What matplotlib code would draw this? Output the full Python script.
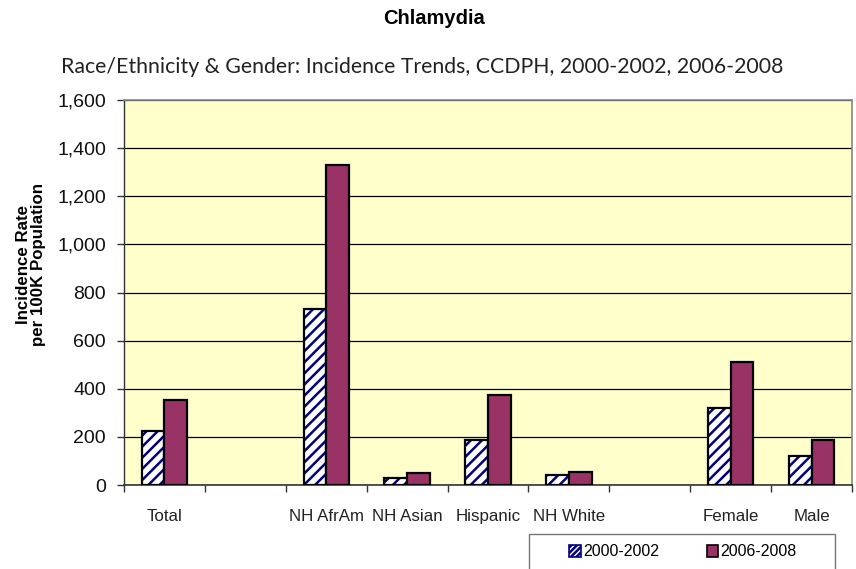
import matplotlib
matplotlib.use("Agg")
import matplotlib.pyplot as plt
from matplotlib.patches import Patch, Rectangle
from matplotlib.ticker import FuncFormatter, FixedLocator
import numpy as np

categories = ["Total", "", "NH AfrAm", "NH Asian", "Hispanic", "NH White", "", "Female", "Male"]
series_names = ["2000-2002", "2006-2008"]
rate_2000_2002 = [225, np.nan, 733, 28, 187, 40, np.nan, 321, 122]
rate_2006_2008 = [353, np.nan, 1331, 48, 375, 55, np.nan, 512, 186]
yticks = [0, 200, 400, 600, 800, 1000, 1200, 1400, 1600]

W, H = 856, 569
fig = plt.figure(figsize=(W / 100, H / 100), dpi=100)
fig.patch.set_facecolor("white")

ax = fig.add_axes([124 / W, 1 - 485 / H, (852 - 124) / W, (485 - 100) / H])
ax.set_facecolor("#FFFFCC")

x = np.arange(len(categories))
bw = 0.28
v1 = np.array(rate_2000_2002, dtype=float)
v2 = np.array(rate_2006_2008, dtype=float)
m1 = ~np.isnan(v1)
m2 = ~np.isnan(v2)

ax.set_axisbelow(True)
ax.yaxis.grid(True, color="#000000", linewidth=0.9)

plt.rcParams["hatch.linewidth"] = 1.8
# hatched series: white fill with navy stripes, then black outline
ax.bar(x[m1] - bw / 2, v1[m1], width=bw, facecolor="white", edgecolor="#000080",
       hatch="///", linewidth=0, zorder=2)
ax.bar(x[m1] - bw / 2, v1[m1], width=bw, fill=False, edgecolor="black",
       linewidth=1.6, zorder=3)
ax.bar(x[m2] + bw / 2, v2[m2], width=bw, facecolor="#993366", edgecolor="black",
       linewidth=1.6, zorder=3)

ax.set_xlim(-0.5, len(categories) - 0.5)
ax.set_ylim(0, 1600)
ax.set_yticks(yticks)
ax.yaxis.set_major_formatter(FuncFormatter(lambda v, p: f"{int(v):,}"))
ax.set_xticks(x)
ax.set_xticklabels(categories, fontfamily="Liberation Sans", fontsize=12.2, color="#222222")
ax.xaxis.set_minor_locator(FixedLocator(np.arange(len(categories) + 1) - 0.5))
ax.tick_params(axis="x", which="major", length=0, pad=17)
ax.tick_params(axis="x", which="minor", length=5, width=1, color="#333333", direction="out")
ax.tick_params(axis="y", length=5, width=1, color="#333333", pad=8)
for lab in ax.get_yticklabels():
    lab.set_fontfamily("Liberation Sans")
    lab.set_fontsize(14)
    lab.set_color("#111111")

for s in ["top", "right"]:
    ax.spines[s].set_color("#888888")
    ax.spines[s].set_linewidth(1.2)
ax.spines["left"].set_color("#333333")
ax.spines["bottom"].set_color("#333333")
ax.spines["left"].set_linewidth(1.0)
ax.spines["bottom"].set_linewidth(1.2)

fig.text(434 / W, 1 - 18 / H, "Chlamydia", ha="center", va="center",
         fontfamily="Liberation Sans", fontweight="bold", fontsize=14.5)
fig.text(422 / W, 1 - 67 / H,
         "Race/Ethnicity & Gender: Incidence Trends, CCDPH, 2000-2002, 2006-2008",
         ha="center", va="center", fontfamily="Lato", fontsize=15.3, color="#222222")
fig.text(31 / W, 1 - 264 / H, "Incidence Rate\nper 100K Population", rotation=90,
         ha="center", va="center", fontfamily="Liberation Sans", fontweight="bold",
         fontsize=12.2, linespacing=1.0)

# legend box (extends past the bottom edge)
fig.patches.append(Rectangle((529 / W, -0.05), (835 - 529) / W, (1 - 534 / H) + 0.05,
                             transform=fig.transFigure, facecolor="white",
                             edgecolor="#777777", linewidth=1.0))
handles = [Patch(facecolor="white", edgecolor="#000080", hatch="//////", linewidth=1.2),
           Patch(facecolor="#993366", edgecolor="black", linewidth=1.2)]
fig.legend(handles, series_names, loc="center", bbox_to_anchor=(683 / W, 1 - 552 / H),
           ncol=2, frameon=False, prop={"family": "Liberation Sans", "size": 11.5},
           handlelength=0.7, handleheight=0.7, handletextpad=0.15, columnspacing=3.0,
           borderpad=0)

fig.savefig("out.png", dpi=100)
